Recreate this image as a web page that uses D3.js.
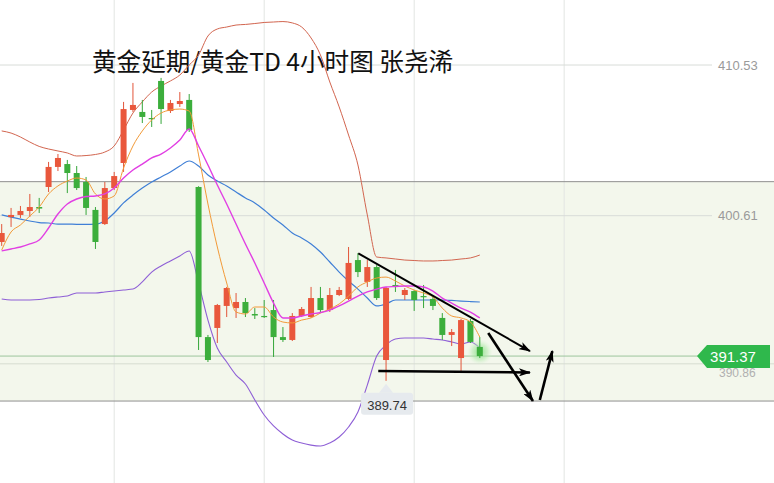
<!DOCTYPE html>
<html><head><meta charset="utf-8">
<script src="https://cdn.jsdelivr.net/npm/d3@7"></script>
<style>body{margin:0;background:#fff;overflow:hidden;} svg{display:block;}</style>
</head><body><svg id="c" width="774" height="483"></svg>
<script>
// ---- data (gold T+D, 4h candles) ----
const opens  = [398.88,400.52,400.66,400.92,401.18,402.50,403.82,404.01,403.42,402.83,400.99,400.06,402.43,404.08,407.57,407.44,407.04,409.48,407.50,407.96,408.23,402.50,392.62,393.22,394.67,394.53,394.93,394.14,394.01,394.40,392.62,392.43,394.01,393.94,395.19,394.40,395.39,395.13,397.69,396.25,397.23,391.11,396.05,395.39,395.65,395.32,395.13,393.88,392.76,391.24,393.68,391.97];
const highs  = [400.06,401.12,401.25,402.04,401.78,404.15,404.67,404.28,403.88,403.16,401.18,402.83,403.49,408.10,409.35,408.23,407.57,409.68,408.23,408.75,408.62,402.55,392.76,394.80,395.92,395.52,395.19,394.53,395.06,395.06,393.28,394.20,394.60,395.92,395.92,395.85,395.92,398.55,398.15,397.69,397.36,395.92,397.04,395.85,395.72,396.05,395.26,394.20,393.15,393.81,393.81,392.62];
const lows   = [398.62,399.87,400.46,400.52,400.79,402.17,403.55,402.10,402.30,400.66,398.42,400.00,402.30,403.49,407.44,406.71,406.45,406.65,407.37,407.77,406.12,391.77,390.98,392.23,393.94,393.88,393.94,393.81,393.88,391.31,392.30,392.36,393.94,393.88,394.20,394.27,395.32,395.06,396.57,395.92,395.06,389.74,395.59,395.06,394.34,394.53,394.40,392.43,392.03,390.39,392.23,391.24];
const closes = [399.47,400.66,400.92,401.18,401.08,403.82,404.41,403.42,402.43,401.12,398.88,402.43,403.22,407.63,407.90,407.11,406.98,407.63,408.03,408.16,406.25,392.62,391.11,394.73,395.85,394.93,394.20,394.04,393.94,392.62,392.43,394.01,394.47,395.19,394.40,395.39,395.72,397.50,396.90,397.23,395.19,395.85,396.02,395.72,395.06,395.26,394.67,392.76,392.95,393.74,392.30,391.37];
// Bollinger bands
const bollUpper = [406.19,406.05,405.79,405.46,405.17,405.00,404.87,404.74,404.54,404.57,404.64,404.80,405.20,406.25,407.37,408.10,408.75,409.15,409.48,409.87,410.53,411.19,412.44,412.90,413.03,413.16,413.20,413.26,413.33,413.36,413.39,413.30,413.03,412.31,411.19,409.41,407.77,405.92,403.95,400.66,397.89,397.83,397.76,397.69,397.66,397.63,397.63,397.66,397.69,397.76,397.83,398.02];
const bollMid   = [400.66,400.52,400.39,400.26,400.16,400.13,400.06,400.06,400.04,400.04,400.06,400.26,400.79,401.45,401.97,402.43,402.83,403.16,403.49,403.88,404.21,403.88,403.29,402.89,402.57,402.17,401.78,401.45,400.99,400.46,400.00,399.47,399.14,398.75,398.22,397.56,396.90,396.31,395.78,395.19,394.67,394.80,395.06,395.06,395.06,395.06,395.06,395.06,395.03,394.99,394.96,394.93];
const bollLower = [395.13,395.06,395.06,395.06,395.09,395.19,395.26,395.32,395.52,395.52,395.52,395.59,395.65,395.72,395.78,396.25,396.90,397.30,397.63,397.96,398.29,396.18,393.74,391.90,390.98,390.12,389.53,388.48,387.49,386.77,386.24,385.84,385.65,385.51,385.45,385.65,386.04,386.70,387.69,389.46,391.37,392.10,392.49,392.56,392.56,392.56,392.49,392.43,392.30,392.16,392.30,391.90];
// moving averages
const maFast = [398.35,399.54,400.00,400.59,401.18,402.04,402.57,402.89,403.09,402.96,402.04,401.71,401.91,403.75,405.20,406.19,406.91,407.37,407.57,407.63,407.50,404.61,401.38,398.55,396.18,394.27,394.14,394.60,394.60,393.94,393.61,393.55,393.74,393.88,394.20,394.47,394.80,395.32,395.92,396.25,396.51,396.57,396.31,395.98,395.72,395.52,395.26,394.53,394.01,393.88,393.61,392.62];
const maSlow = [398.29,398.42,398.55,398.75,399.01,399.80,400.72,401.38,401.71,401.87,401.91,402.04,402.43,403.09,403.62,404.01,404.41,404.67,405.07,405.59,406.32,405.20,403.95,402.63,401.38,400.06,398.75,397.50,396.18,394.86,393.88,393.88,394.01,394.14,394.24,394.40,394.67,394.99,395.32,395.59,395.78,395.92,395.95,395.98,395.98,395.92,395.65,395.19,394.86,394.53,394.27,393.88];
// axis / levels
const priceTicks = [410.53, 400.61];
const lastPrice = 391.37;
const hiddenLevel = 390.86;
const lowMark = 389.74;
const zone = [402.85, 388.41];
const gridIdx = [12, 28, 44, 60];
// hand-drawn arrows: [startIdx, startPrice, endIdx, endPrice]
const arrows = [
  [38.04, 398.13, 56.35, 391.70],
  [40.17, 390.39, 56.35, 390.29],
  [51.90, 392.89, 56.67, 388.41],
  [57.40, 388.48, 58.74, 391.70]
];
const title = "黄金延期/黄金TD 4小时图 张尧浠";

// ---- drawing ----
const W = 774, H = 483;
const svg = d3.select("#c");
const x = d3.scaleLinear().domain([0, 51]).range([1.7, 479.8]);
const y = d3.scaleLinear().domain([400.61, 410.53]).range([215.7, 65]);

const defs = svg.append("defs");
const glow = defs.append("radialGradient").attr("id","glow");
glow.append("stop").attr("offset","0%").attr("stop-color","#7ddc7d").attr("stop-opacity",0.9);
glow.append("stop").attr("offset","60%").attr("stop-color","#aee8a8").attr("stop-opacity",0.5);
glow.append("stop").attr("offset","100%").attr("stop-color","#d8f4d4").attr("stop-opacity",0);
defs.append("marker").attr("id","ah").attr("viewBox","0 0 12 8").attr("refX",11).attr("refY",4)
  .attr("markerWidth",12).attr("markerHeight",8).attr("markerUnits","userSpaceOnUse").attr("orient","auto")
  .append("path").attr("d","M0,0 L12,4 L0,8 L3,4 Z").attr("fill","#000");

// background zone
svg.append("rect").attr("x",0).attr("width",W).attr("y",y(zone[0])).attr("height",y(zone[1])-y(zone[0])).attr("fill","#f3f7ec");
// vertical grid
svg.selectAll("line.vg").data(gridIdx).join("line").attr("class","vg")
  .attr("x1",d=>x(d)).attr("x2",d=>x(d)).attr("y1",0).attr("y2",H).attr("stroke","#e2e5e2").attr("stroke-width",1);
// price grid
svg.selectAll("line.hg").data(priceTicks).join("line").attr("class","hg")
  .attr("x1",0).attr("x2",712).attr("y1",d=>y(d)).attr("y2",d=>y(d)).attr("stroke","#d8dcd8").attr("stroke-width",1);
svg.append("line").attr("x1",0).attr("x2",W).attr("y1",y(hiddenLevel)).attr("y2",y(hiddenLevel)).attr("stroke","#d6dcd0");
svg.selectAll("line.zb").data(zone).join("line").attr("class","zb")
  .attr("x1",0).attr("x2",W).attr("y1",d=>y(d)).attr("y2",d=>y(d)).attr("stroke","#8f8f8f").attr("stroke-width",1);
svg.append("line").attr("x1",0).attr("x2",700).attr("y1",y(lastPrice)).attr("y2",y(lastPrice)).attr("stroke","#9cc59c").attr("stroke-width",1);

// title
svg.append("text").attr("x",92).attr("y",71).attr("font-family","'Noto Sans CJK SC','Noto Sans',sans-serif")
  .attr("font-size",24.6).attr("fill","#111").text(title);

// indicator lines
const idx = d3.range(opens.length);
function drawLine(arr, color, w){
  svg.append("path").datum(idx).attr("fill","none").attr("stroke",color).attr("stroke-width",w)
    .attr("stroke-linejoin","round")
    .attr("d", d3.line().x(i=>x(i)).y(i=>y(arr[i])).curve(d3.curveMonotoneX));
}
drawLine(bollUpper, "#d2654f", 1);
drawLine(bollLower, "#8e5fd6", 1.1);
drawLine(bollMid, "#3f7fd6", 1.2);

// glow behind last candle
svg.append("circle").attr("cx",x(51)).attr("cy",y(closes[51])-4).attr("r",13).attr("fill","url(#glow)");

// candles
const up = i => closes[i] >= opens[i];
const g = svg.append("g");
g.selectAll("line.wick").data(idx).join("line").attr("class","wick")
  .attr("x1",i=>x(i)).attr("x2",i=>x(i)).attr("y1",i=>y(highs[i])).attr("y2",i=>y(lows[i]))
  .attr("stroke",i=>up(i)?"#e2553a":"#35a63a").attr("stroke-width",1);
g.selectAll("rect.body").data(idx).join("rect").attr("class","body")
  .attr("x",i=>x(i)-3).attr("width",6)
  .attr("y",i=>y(Math.max(opens[i],closes[i])))
  .attr("height",i=>Math.max(1.2, Math.abs(y(opens[i])-y(closes[i]))))
  .attr("fill",i=>up(i)?"#e9573c":"#3cae3c");

drawLine(maFast, "#f29a38", 1);
drawLine(maSlow, "#e13fe3", 1.4);

// arrows
svg.selectAll("line.arr").data(arrows).join("line").attr("class","arr")
  .attr("x1",d=>x(d[0])).attr("y1",d=>y(d[1])).attr("x2",d=>x(d[2])).attr("y2",d=>y(d[3]))
  .attr("stroke","#000").attr("stroke-width",(d,i)=>i===0?2:2.6).attr("marker-end","url(#ah)");

// low marker
const lx = x(41), ly = y(lowMark);
svg.append("path").attr("d",`M${lx-7},${ly+12} L${lx},${ly+3} L${lx+7},${ly+12} Z`).attr("fill","#e6eaee");
svg.append("rect").attr("x",lx-25).attr("y",ly+12).attr("width",52).attr("height",22).attr("rx",3).attr("fill","#e6eaee");
svg.append("text").attr("x",lx+1).attr("y",ly+29).attr("text-anchor","middle")
  .attr("font-family","'Liberation Sans',Arial,sans-serif").attr("font-size",13).attr("fill","#333").text(lowMark.toFixed(2));

// right axis
const axis = d3.axisRight(y).tickValues(priceTicks).tickSize(0).tickPadding(0).tickFormat(d3.format(".2f"));
const ag = svg.append("g").attr("transform","translate(718,0)").call(axis);
ag.select(".domain").remove();
ag.selectAll("text").attr("font-family","'Liberation Sans',Arial,sans-serif").attr("font-size",13).attr("fill","#9a9a9a");
// hidden level label (partly covered by the price tag)
svg.append("text").attr("x",719).attr("y",377).attr("font-family","'Liberation Sans',Arial,sans-serif")
  .attr("font-size",12).attr("fill","#b0b0b0").text(hiddenLevel.toFixed(2));
// last price tag
const ty = y(lastPrice);
svg.append("path").attr("d",`M697,${ty} L707,${ty-11} L770,${ty-11} L770,${ty+12} L707,${ty+12} Z`).attr("fill","#2fb84c");
svg.append("text").attr("x",733).attr("y",ty+5.5).attr("text-anchor","middle")
  .attr("font-family","'Liberation Sans',Arial,sans-serif").attr("font-size",15).attr("fill","#fff").text(lastPrice.toFixed(2));
</script>
</body></html>
